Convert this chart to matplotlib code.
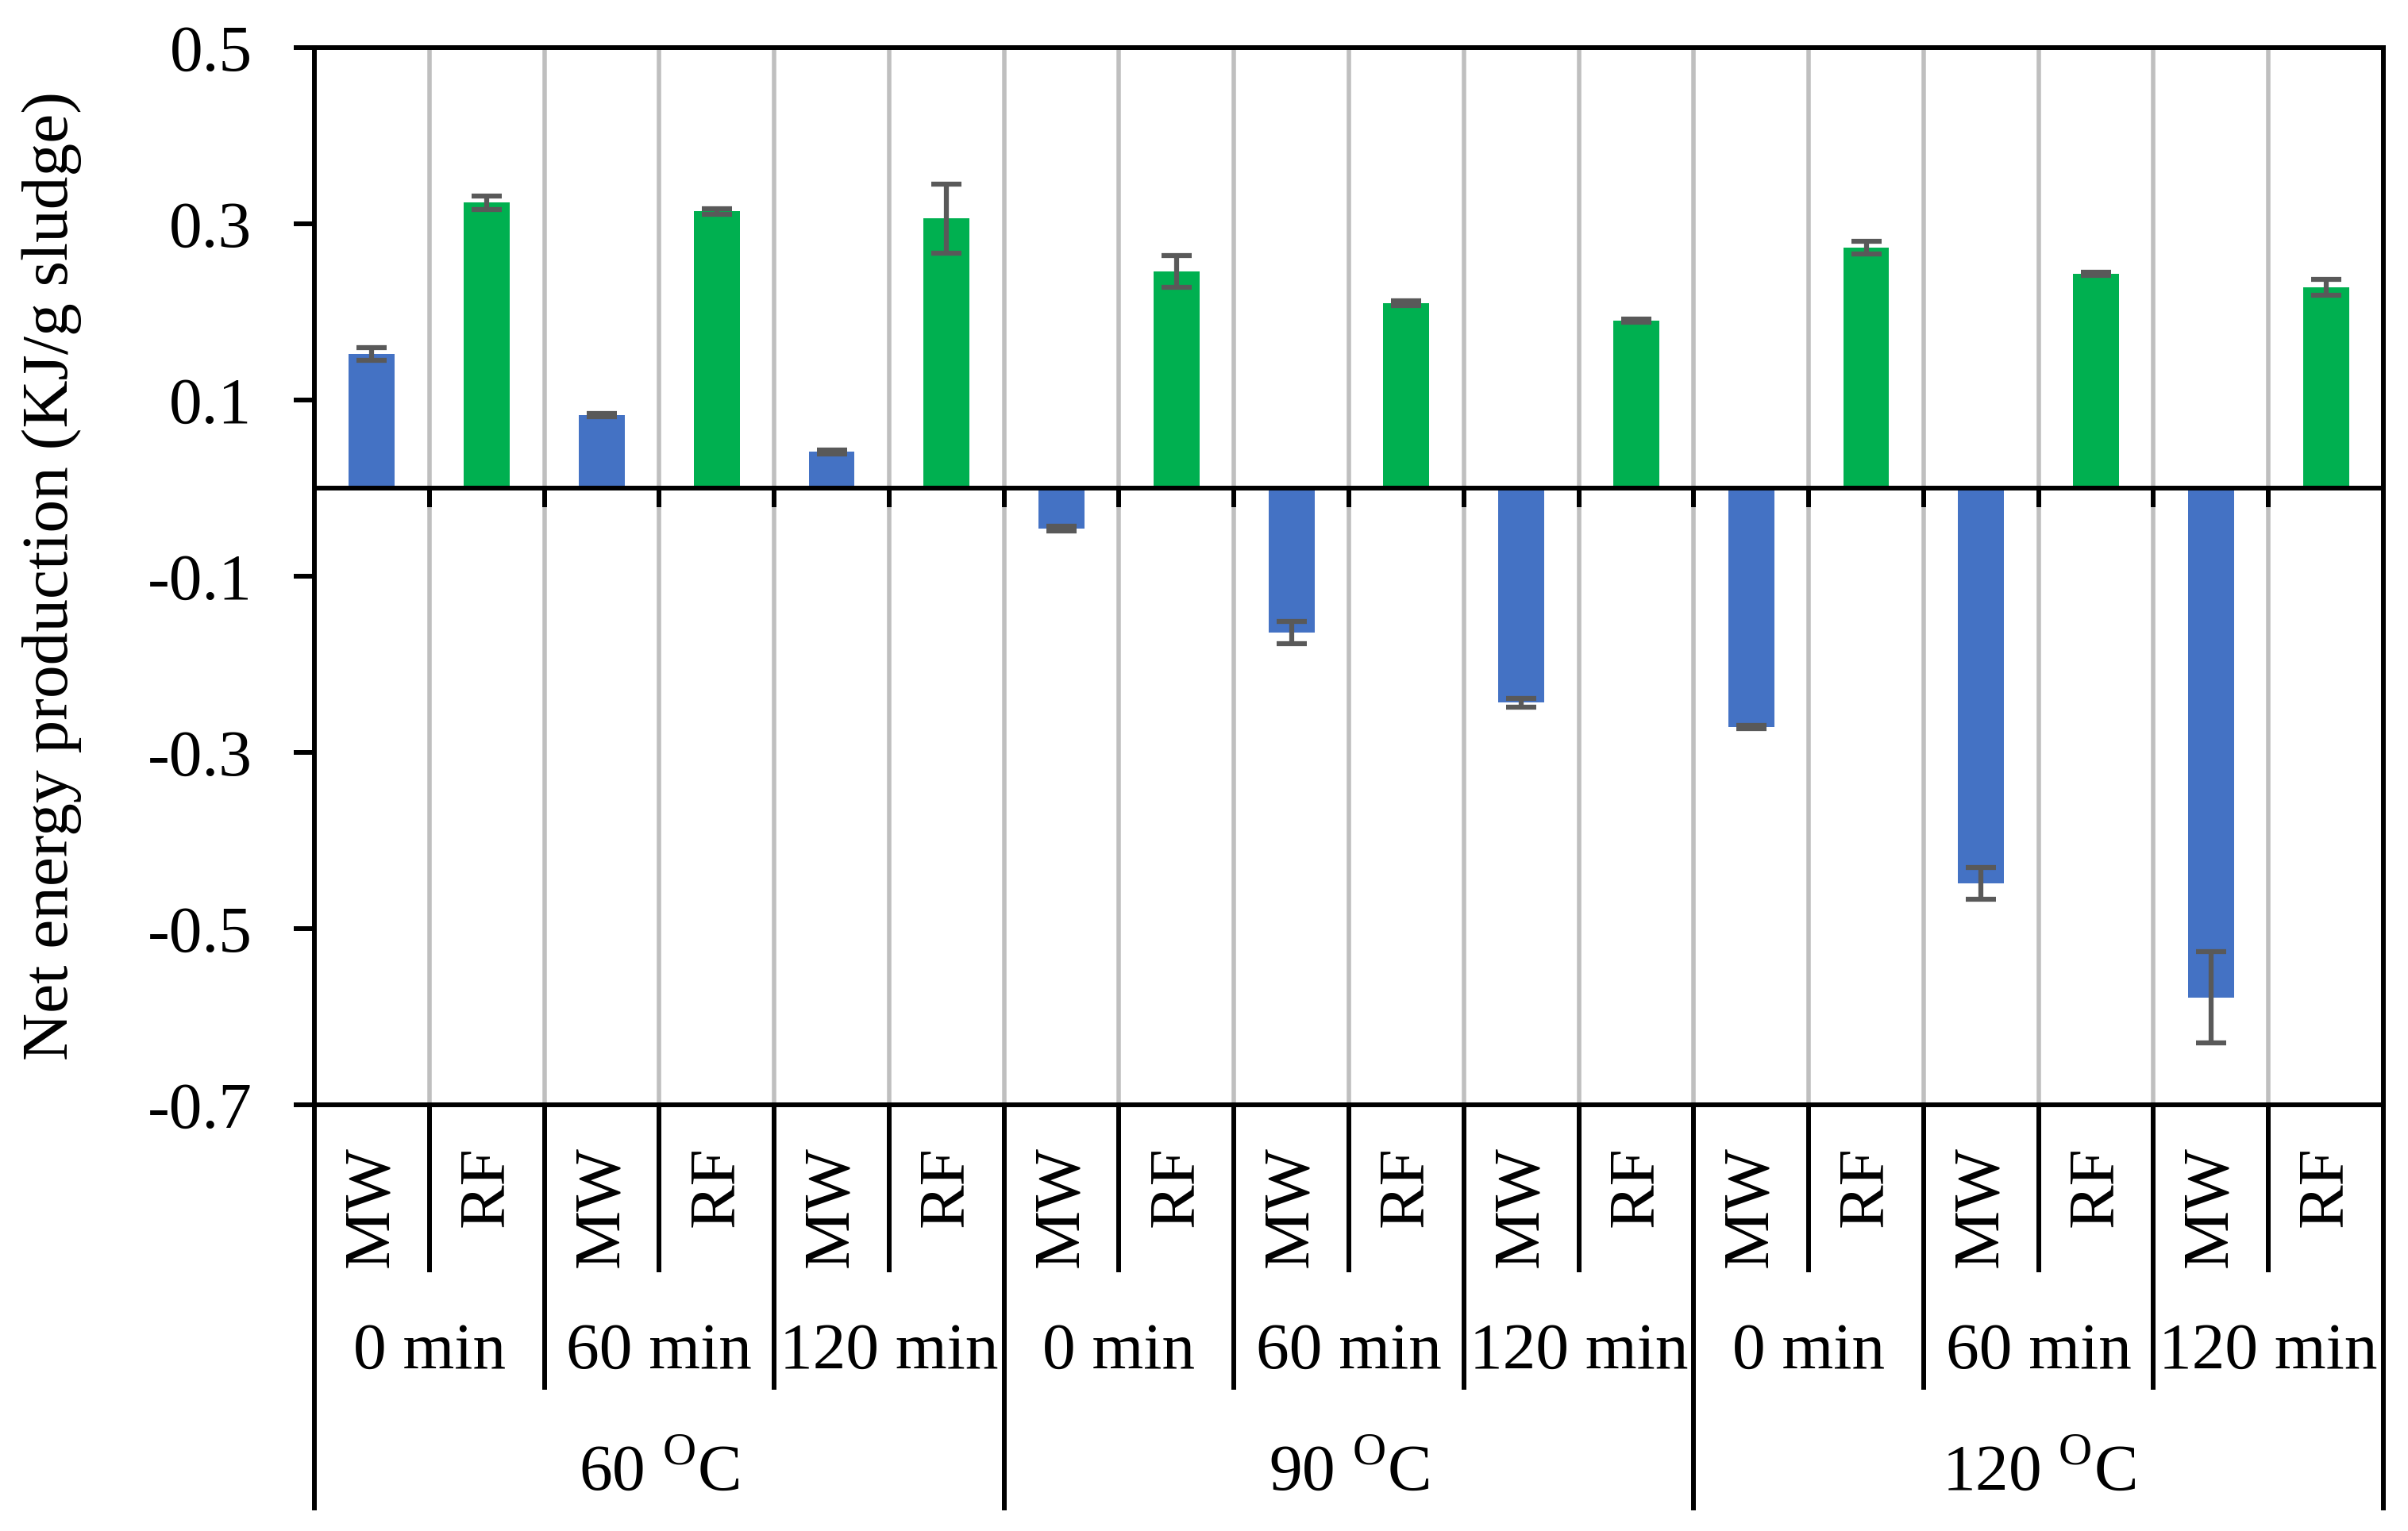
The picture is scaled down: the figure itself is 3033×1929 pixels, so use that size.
import matplotlib
matplotlib.use("Agg")
import matplotlib.pyplot as plt
import matplotlib.transforms as mtransforms
from matplotlib.lines import Line2D
import numpy as np

# ---- data ----
temperatures = ["60", "90", "120"]
times = ["0 min", "60 min", "120 min"]
methods = ["MW", "RF"]
mw_values = [0.152, 0.083, 0.041, -0.046, -0.164, -0.2435, -0.271, -0.449, -0.578]
mw_errors = [0.0074, 0.002, 0.002, 0.003, 0.013, 0.005, 0.002, 0.018, 0.052]
rf_values = [0.324, 0.314, 0.306, 0.246, 0.210, 0.190, 0.273, 0.243, 0.228]
rf_errors = [0.0076, 0.003, 0.039, 0.018, 0.003, 0.002, 0.007, 0.002, 0.009]
y_ticks = [-0.7, -0.5, -0.3, -0.1, 0.1, 0.3, 0.5]
y_label = "Net energy production (KJ/g sludge)"

mw_color = "#4472C4"
rf_color = "#00B050"
err_color = "#595959"
grid_color = "#BFBFBF"

plt.rcParams["font.family"] = ["Liberation Serif", "DejaVu Serif"]
plt.rcParams["mathtext.fontset"] = "custom"
plt.rcParams["mathtext.rm"] = "Liberation Serif"
plt.rcParams["axes.unicode_minus"] = False

W, H = 3033, 1929
DPI = 100
fig = plt.figure(figsize=(W / DPI, H / DPI), dpi=DPI)

ax_left, ax_right, ax_top, ax_bottom = 396, 3002, 60, 1392
ax = fig.add_axes([ax_left / W, 1 - ax_bottom / H, (ax_right - ax_left) / W, (ax_bottom - ax_top) / H])

n = len(mw_values)
ncat = 2 * n
x_mw = np.arange(n) * 2
x_rf = np.arange(n) * 2 + 1
bar_w = 0.4

spine_lw = 4.3
fs = 60

ax.set_xlim(-0.5, ncat - 0.5)
ax.set_ylim(-0.7, 0.5)

# vertical gray gridlines at category boundaries
bounds = np.arange(0.5, ncat - 0.5, 1.0)
ax.vlines(bounds, -0.7, 0.5, colors=grid_color, linewidth=4.0, zorder=0)

ax.bar(x_mw, mw_values, width=bar_w, color=mw_color, zorder=2)
ax.bar(x_rf, rf_values, width=bar_w, color=rf_color, zorder=2)
ax.errorbar(x_mw, mw_values, yerr=mw_errors, fmt="none", ecolor=err_color,
            elinewidth=4.5, capsize=14, capthick=4.5, zorder=3)
ax.errorbar(x_rf, rf_values, yerr=rf_errors, fmt="none", ecolor=err_color,
            elinewidth=4.5, capsize=14, capthick=4.5, zorder=3)

# zero axis line with tick marks
ax.axhline(0, color="black", linewidth=spine_lw, zorder=4)
tick_len = 24 / ((ax_bottom - ax_top) / 1.2)
ax.vlines(bounds, -tick_len, 0, colors="black", linewidth=spine_lw, zorder=4)

for s in ax.spines.values():
    s.set_linewidth(spine_lw)
    s.set_color("black")

ax.set_xticks([])
ax.set_yticks(y_ticks)
ax.set_yticklabels([f"{v:.1f}" for v in y_ticks])
ax.tick_params(axis="y", direction="out", length=18.5, width=spine_lw, pad=38, labelsize=fs)

# y label
fig.text(65 / W, 1 - ((ax_top + ax_bottom) / 2) / H, y_label, rotation=90,
         ha="center", va="center", fontsize=fs)

# multi-level category labels below axes
trans = mtransforms.blended_transform_factory(ax.transData, fig.transFigure)

def fy(px):
    return 1 - px / H

row1_top = fy(1444)
row1_bot = fy(1600)
row2_bot = fy(1748)
row3_bot = fy(1900)
axis_bot = fy(ax_bottom)

for i in range(ncat):
    ax.text(i, row1_top, methods[i % 2], transform=trans, rotation=90,
            ha="center", va="top", fontsize=fs)

for j in range(len(temperatures) * len(times)):
    ax.text(2 * j + 0.5, fy(1724), times[j % 3], transform=trans,
            ha="center", va="baseline", fontsize=fs)

for k, t in enumerate(temperatures):
    ax.text(6 * k + 2.5, fy(1878), t + r" $^{\mathrm{O}}$C", transform=trans,
            ha="center", va="baseline", fontsize=fs)

for b in np.arange(-0.5, ncat, 1.0):
    idx = int(round(b + 0.5))
    if idx % 6 == 0:
        y_end = row3_bot
    elif idx % 2 == 0:
        y_end = row2_bot
    else:
        y_end = row1_bot
    fig.add_artist(Line2D([b, b], [axis_bot, y_end], transform=trans,
                          color="black", linewidth=spine_lw, clip_on=False))

fig.savefig("out.png", dpi=DPI, facecolor="white")
